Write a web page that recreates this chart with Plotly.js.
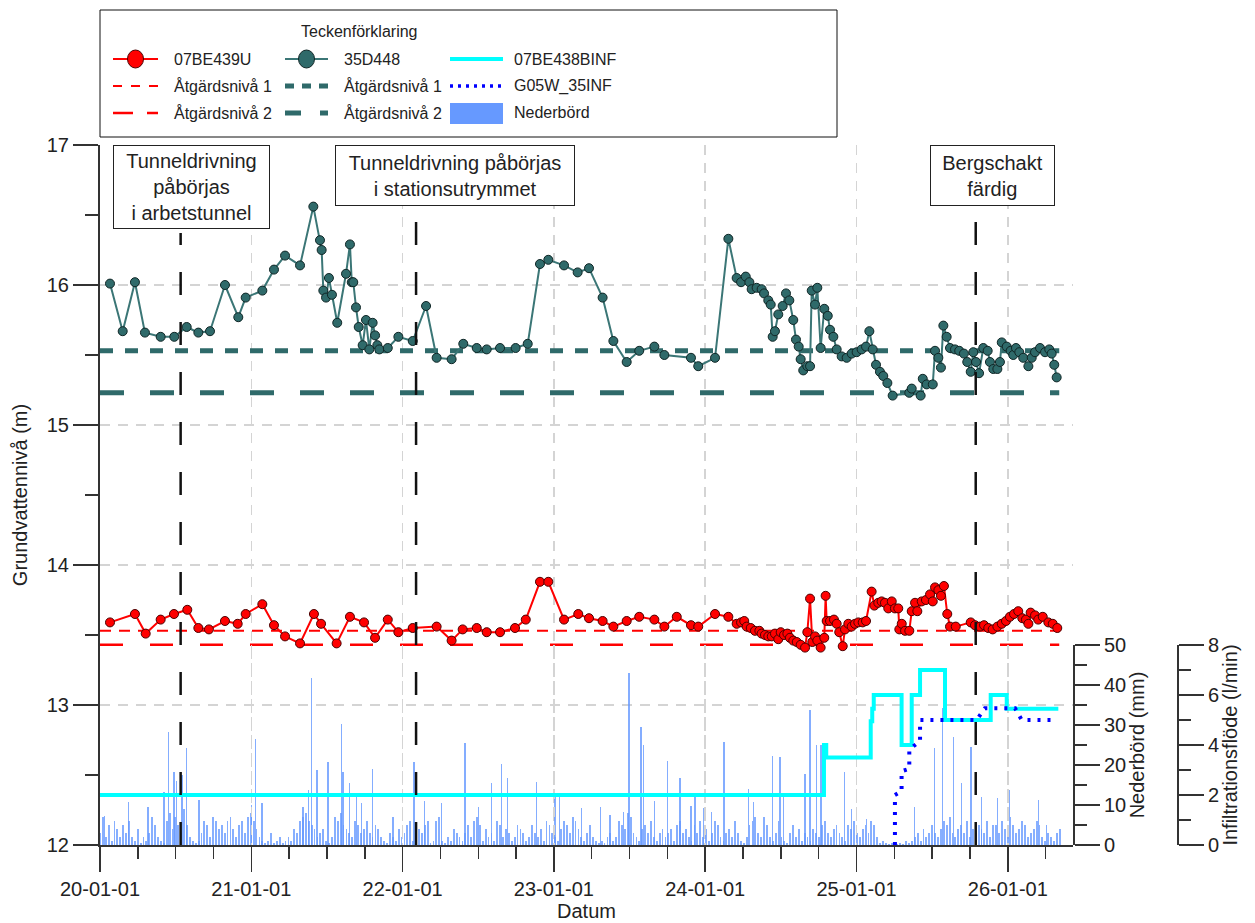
<!DOCTYPE html>
<html><head><meta charset="utf-8">
<script src="https://cdn.plot.ly/plotly-3.0.1.min.js"></script>
<style>html,body{margin:0;padding:0;background:#fff}#chart{width:1255px;height:923px}</style>
</head><body><div id="chart"></div>
<script>
// ---------- DATA ----------
// time is expressed in decimal years
const yearTicks = [2020, 2021, 2022, 2023, 2024, 2025, 2026];
const yearTickLabels = ['20-01-01','21-01-01','22-01-01','23-01-01','24-01-01','25-01-01','26-01-01'];

// 35D448 groundwater level (m)
const tealYears = [
2020.066,2020.150,2020.231,2020.297,2020.401,2020.491,2020.573,2020.650,2020.727,2020.826,
2020.914,2020.963,2021.073,2021.150,2021.223,2021.322,2021.410,2021.454,2021.465,2021.476,
2021.494,2021.513,2021.533,2021.568,2021.626,2021.652,2021.664,2021.674,2021.692,2021.710,
2021.736,2021.758,2021.780,2021.802,2021.818,2021.833,2021.846,2021.902,2021.972,2022.067,
2022.155,2022.225,2022.324,2022.401,2022.490,2022.556,2022.644,2022.747,2022.827,2022.908,
2022.963,2023.067,2023.157,2023.232,2023.322,2023.393,2023.481,2023.564,2023.664,2023.730,
2023.906,2023.954,2024.065,2024.153,2024.208,2024.237,2024.268,2024.292,2024.307,2024.340,
2024.373,2024.389,2024.417,2024.433,2024.446,2024.461,2024.483,2024.512,2024.534,2024.556,
2024.582,2024.600,2024.618,2024.631,2024.648,2024.675,2024.693,2024.704,2024.726,2024.741,
2024.763,2024.787,2024.810,2024.825,2024.847,2024.869,2024.902,2024.935,2024.968,2025.001,
2025.034,2025.063,2025.085,2025.107,2025.129,2025.155,2025.177,2025.204,2025.239,2025.349,
2025.365,2025.424,2025.438,2025.464,2025.504,2025.519,2025.541,2025.558,2025.574,2025.596,
2025.618,2025.651,2025.679,2025.710,2025.732,2025.755,2025.772,2025.790,2025.810,2025.838,
2025.867,2025.882,2025.904,2025.931,2025.948,2025.960,2025.993,2026.019,2026.036,2026.054,
2026.076,2026.102,2026.136,2026.158,2026.180,2026.213,2026.246,2026.274,2026.290,2026.307,2026.323];
const tealLevel = [
16.01,15.67,16.02,15.66,15.63,15.63,15.70,15.66,15.67,16.00,
15.77,15.91,15.96,16.11,16.21,16.14,16.56,16.32,16.25,15.96,
15.91,16.05,15.93,15.73,16.08,16.29,16.02,16.02,15.84,15.70,
15.57,15.75,15.54,15.73,15.64,15.57,15.54,15.55,15.63,15.60,
15.85,15.48,15.47,15.58,15.55,15.54,15.55,15.55,15.58,16.15,
16.18,16.14,16.09,16.12,15.91,15.60,15.45,15.53,15.56,15.50,
15.48,15.42,15.48,16.33,16.05,16.02,16.06,16.02,15.97,15.98,
15.97,15.94,15.89,15.86,15.63,15.67,15.79,15.85,15.94,15.89,
15.75,15.61,15.56,15.47,15.39,15.42,15.42,15.96,15.86,15.98,
15.55,15.83,15.78,15.68,15.63,15.54,15.49,15.48,15.51,15.52,
15.54,15.56,15.67,15.54,15.43,15.38,15.35,15.30,15.21,15.23,
15.26,15.21,15.33,15.29,15.29,15.53,15.48,15.41,15.71,15.63,
15.55,15.54,15.53,15.51,15.45,15.38,15.52,15.45,15.37,15.55,
15.53,15.45,15.40,15.40,15.45,15.59,15.56,15.53,15.50,15.55,
15.52,15.48,15.42,15.48,15.52,15.55,15.52,15.54,15.51,15.43,15.34];

// 07BE439U groundwater level (m)
const redYears = [
2020.066,2020.231,2020.302,2020.401,2020.489,2020.577,2020.650,2020.720,2020.826,2020.910,
2020.963,2021.073,2021.150,2021.223,2021.322,2021.414,2021.461,2021.564,2021.652,2021.745,
2021.818,2021.902,2021.972,2022.067,2022.225,2022.324,2022.397,2022.490,2022.556,2022.644,
2022.743,2022.814,2022.908,2022.963,2023.067,2023.161,2023.232,2023.322,2023.393,2023.481,
2023.564,2023.664,2023.730,2023.812,2023.906,2023.954,2024.065,2024.153,2024.208,2024.237,
2024.258,2024.274,2024.301,2024.329,2024.358,2024.373,2024.395,2024.417,2024.440,2024.461,
2024.483,2024.499,2024.521,2024.543,2024.560,2024.582,2024.605,2024.631,2024.660,2024.675,
2024.693,2024.708,2024.726,2024.741,2024.763,2024.787,2024.796,2024.803,2024.825,2024.851,
2024.869,2024.886,2024.909,2024.924,2024.946,2024.968,2024.990,2025.012,2025.041,2025.063,
2025.100,2025.118,2025.144,2025.166,2025.188,2025.210,2025.233,2025.254,2025.276,2025.283,
2025.299,2025.321,2025.349,2025.365,2025.387,2025.402,2025.431,2025.459,2025.486,2025.504,
2025.519,2025.541,2025.558,2025.578,2025.600,2025.618,2025.656,2025.755,2025.783,2025.816,
2025.843,2025.871,2025.900,2025.931,2025.960,2025.988,2026.014,2026.041,2026.069,2026.096,
2026.120,2026.136,2026.151,2026.180,2026.201,2026.231,2026.268,2026.297,2026.327];
const redLevel = [
13.59,13.65,13.51,13.61,13.65,13.68,13.55,13.54,13.60,13.58,
13.65,13.72,13.57,13.49,13.44,13.65,13.58,13.44,13.63,13.59,
13.48,13.61,13.52,13.55,13.56,13.46,13.54,13.55,13.52,13.52,
13.55,13.61,13.88,13.88,13.61,13.65,13.62,13.60,13.56,13.60,
13.63,13.61,13.56,13.63,13.57,13.56,13.65,13.63,13.58,13.59,
13.60,13.56,13.55,13.53,13.53,13.51,13.50,13.49,13.49,13.51,
13.47,13.52,13.50,13.51,13.48,13.46,13.45,13.43,13.41,13.52,
13.76,13.45,13.49,13.46,13.41,13.48,13.78,13.60,13.60,13.61,
13.58,13.52,13.42,13.54,13.58,13.56,13.58,13.59,13.59,13.60,
13.81,13.71,13.73,13.74,13.73,13.69,13.74,13.69,13.69,13.54,
13.58,13.53,13.53,13.67,13.73,13.67,13.74,13.75,13.79,13.74,
13.84,13.82,13.78,13.85,13.65,13.56,13.56,13.59,13.57,13.56,
13.57,13.55,13.54,13.56,13.58,13.60,13.63,13.65,13.67,13.62,
13.61,13.58,13.66,13.64,13.61,13.63,13.59,13.58,13.55];

// action levels (m)
const levelSpan = [2020.0, 2026.34];
const redAction1 = 13.53, redAction2 = 13.43;
const tealAction1 = 15.53, tealAction2 = 15.23;

// 07BE438BINF infiltration flow (l/min), step series
const cyanYears = [2020.000,2024.785,2024.800,2025.094,2025.104,2025.114,2025.298,2025.365,2025.420,2025.585,2025.887,2025.993,2026.334];
const cyanFlow  = [2.0,4.0,3.5,4.95,5.45,6.0,4.0,6.0,7.0,5.0,6.0,5.45,5.45];

// G05W_35INF infiltration flow (l/min)
const blueYears = [2025.254,2025.254,2025.298,2025.298,2025.349,2025.349,2025.376,2025.420,2025.420,2025.794,2025.849,2026.048,2026.092,2026.290];
const blueFlow  = [0.0,2.0,2.15,2.95,3.05,3.8,3.95,4.15,5.0,5.0,5.47,5.47,5.0,5.0];

// Nederbörd (mm): weekly background values from 2020-01-01
const precipStartYear = 2020.0;
const precipWeekStep = 7 / 365.25;
const precipWeekly = [
3,7,2,5,1,6,4,2,5,3,6,2,
1,4,0.5,2,1,3,7,5,2,1,0.5,
6,8,4,7,5,3,9,5,2,1,0.5,1,
3,6,5,2,7,6,4,5,3,6,7,4,2,5,6,3,7,8,
6,4,2,1,0.5,1,3,0.5,1,2,0.5,1,2,1,4,3,6,7,
8,6,5,4,2,3,4,1,0.5,2,7,6,8,5,4,3,2,6,5,3,
4,6,3,2,5,4,2,1,0.5,3,2,1,4,2,3,5,6,1,2,4,3,5,6,
0.5,1,6,7,1,0.5,2,1,4,3,2,1,
3,5,2,6,7,5,1,4,2,3,1,6,5,2,4,3,1,2,5,4,3,1,2,
5,3,2,4,1,6,5,3,2,1,4,6,5,3,7,6,4,2,1,3,5,2,1,
0.5,1,0.5,2,3,1,2,6,5,4,8,7,3,2,1,4,5,3,6,2,1,3,4,
2,3,4,1,5,6,3,4,2,1,5,3,6,2,4,1,3,6,5,2,1,3,4,2,6,3,1,0.5,2,5,6,7,3,2,
7,5,2,1,3,6,2,1,0.5,3,5,2,4,1,3,2,1,4,3,2,5,6,3,
2,4,5,3,2,1,5,4,6,3,2,4,5,3,6,5,2,0.5,1,0.5,0.3,0.5,0.3,0.3,0.5,0.3,
1,0.5,1,2,3,1,4,2,3,5,3,2,4,6,5,7,3,2,4,5,3,6,2,4,3,5,4,3,6,2,5,
5,3,6,4,2,7,5,3,4,6,5,2,3,4,6,5,2,1,3,2,1,3,4];
// Nederbörd (mm): individual peak days
const precipPeakYears = [
2020.031,2020.190,2020.317,2020.423,2020.454,2020.489,2020.504,2020.542,2020.573,2020.654,
2021.000,2021.026,2021.071,2021.342,2021.379,2021.397,2021.434,2021.507,2021.595,2021.606,
2021.650,2021.694,2021.727,2021.800,2021.937,2022.075,2022.146,2022.258,2022.412,2022.500,
2022.589,2022.655,2022.695,2022.886,2023.007,2023.036,2023.184,2023.310,2023.371,2023.459,
2023.497,2023.576,2023.591,2023.664,2023.752,2023.834,2023.906,2023.933,2023.987,2024.043,
2024.124,2024.285,2024.318,2024.446,2024.494,2024.516,2024.660,2024.693,2024.737,2024.765,
2024.919,2024.968,2025.067,2025.382,2025.514,2025.570,2025.640,2025.695,2025.757,2025.827,
2025.933,2026.010,2026.201,2026.256];
const precipPeaks = [
7.2,10.8,9.6,13.3,28.3,18.3,16,17.5,24.3,11.3,
10,26.5,10.6,9.6,13.7,41.7,18.8,20.8,30.2,18.3,
15.4,12.1,10.4,18.9,7.1,20.8,11,10.4,25.4,9.6,
15.4,20.3,16.7,15.7,12.1,12.1,9.3,9.6,7.6,8.3,
42.9,29.6,25,11.1,21,16.7,9.8,12.1,9.2,8.2,
25.7,14.1,10.8,22.3,22,12.3,17.7,33.8,25,25,
18.3,9.1,6.6,9.6,24.2,34.2,27.1,15.4,24.6,12.1,
11.7,13.8,11.3,5];

// events
const eventYears = [2020.533, 2022.089, 2025.788];
const eventLabels = ['Tunneldrivning<br>påbörjas<br>i arbetstunnel', 'Tunneldrivning påbörjas<br>i stationsutrymmet', 'Bergschakt<br>färdig'];
const eventBoxCenters = [2020.605, 2022.346, 2025.899];

// legend texts
const legendTitle = 'Teckenförklaring';
const legendLabels = [['07BE439U','Åtgärdsnivå 1','Åtgärdsnivå 2'],['35D448','Åtgärdsnivå 1','Åtgärdsnivå 2'],['07BE438BINF','G05W_35INF','Nederbörd']];

// ---------- STYLE / LAYOUT ----------
const W = 1255, H = 923, L = 100, R = 40, T = 145, B = 78;
const PW = W - L - R, PH = H - T - B;
const px2x = X => (X - L) / PW;
const px2y = Y => (T + PH - Y) / PH;
const FONT = 'Liberation Sans, Arial, sans-serif';
const RED = '#ff0000', TEAL = '#2f6a6a', CYAN = '#00ffff', BLUE = '#0000ff', RAIN = 'rgb(102,153,255)';

const precipWeekYears = precipWeekly.map((v, i) => precipStartYear + i * precipWeekStep);

const traces = [
  {x: precipWeekYears, y: precipWeekly, type: 'bar', yaxis: 'y2', width: 0.012,
   marker: {color: RAIN, line: {width: 0}}, opacity: 0.78, name: 'Nederbörd'},
  {x: precipPeakYears, y: precipPeaks, type: 'bar', yaxis: 'y2', width: 0.009,
   marker: {color: RAIN, line: {width: 0}}, opacity: 0.8, name: 'Nederbörd'},
  {x: levelSpan, y: [tealAction1, tealAction1], mode: 'lines', line: {color: TEAL, width: 5, dash: '13px,12px'}, name: 'Åtgärdsnivå 1'},
  {x: levelSpan, y: [tealAction2, tealAction2], mode: 'lines', line: {color: TEAL, width: 5, dash: '24px,26px'}, name: 'Åtgärdsnivå 2'},
  {x: levelSpan, y: [redAction1, redAction1], mode: 'lines', line: {color: RED, width: 2, dash: '11px,8px'}, name: 'Åtgärdsnivå 1'},
  {x: levelSpan, y: [redAction2, redAction2], mode: 'lines', line: {color: RED, width: 2.5, dash: '23px,27px'}, name: 'Åtgärdsnivå 2'},
  {x: tealYears, y: tealLevel, mode: 'lines+markers', name: '35D448',
   line: {color: '#3b7676', width: 2}, marker: {size: 9, color: TEAL, line: {color: '#102626', width: 1}}},
  {x: redYears, y: redLevel, mode: 'lines+markers', name: '07BE439U',
   line: {color: RED, width: 2}, marker: {size: 9, color: RED, line: {color: '#4a0000', width: 1}}},
  {x: cyanYears, y: cyanFlow, mode: 'lines', yaxis: 'y3', name: '07BE438BINF',
   line: {color: CYAN, width: 4, shape: 'hv'}},
  {x: blueYears, y: blueFlow, mode: 'lines', yaxis: 'y3', name: 'G05W_35INF',
   line: {color: BLUE, width: 4, dash: '3px,7px'}}
];

const shapes = [];
const annotations = [];

// event lines and boxes
const eventTops = [233, 221, 221];
eventYears.forEach((ex, i) => {
  shapes.push({type: 'line', xref: 'x', yref: 'paper', x0: ex, x1: ex, y0: 0, y1: px2y(eventTops[i]),
    line: {color: '#111', width: 2.5, dash: '23px,27px'}, layer: 'above'});
});
const boxW = [155, 238, 123], boxH = [82, 59, 59];
eventLabels.forEach((t, i) => {
  annotations.push({text: t, xref: 'x', yref: 'paper', x: eventBoxCenters[i], y: 1, xanchor: 'center', yanchor: 'top',
    showarrow: false, bgcolor: '#fff', bordercolor: '#222', borderwidth: 1, borderpad: 0,
    width: boxW[i], height: boxH[i], align: 'center', valign: 'middle',
    font: {family: FONT, size: 20, color: '#222'}});
});

// manual legend
shapes.push({type: 'rect', xref: 'paper', yref: 'paper', x0: px2x(100), x1: px2x(837), y0: px2y(137), y1: px2y(10),
  line: {color: '#111', width: 1}, fillcolor: '#fff', layer: 'above'});
annotations.push({text: legendTitle, xref: 'paper', yref: 'paper', x: px2x(359), y: px2y(32), xanchor: 'center', yanchor: 'middle',
  showarrow: false, font: {family: FONT, size: 16, color: '#222'}});
const rowY = [59, 86, 113];
const colSym = [[113, 158], [285, 328], [450, 503]];
const colText = [172, 342, 512];
function lineSym(c, r, color, width, dash) {
  shapes.push({type: 'line', xref: 'paper', yref: 'paper', x0: px2x(colSym[c][0]), x1: px2x(colSym[c][1]),
    y0: px2y(rowY[r]), y1: px2y(rowY[r]), line: {color: color, width: width, dash: dash || 'solid'}, layer: 'above'});
}
function circleSym(c, r, fill, edge) {
  const cx = (colSym[c][0] + colSym[c][1]) / 2;
  shapes.push({type: 'circle', xref: 'paper', yref: 'paper', x0: px2x(cx - 8), x1: px2x(cx + 8),
    y0: px2y(rowY[r] + 9), y1: px2y(rowY[r] - 9), fillcolor: fill, line: {color: edge, width: 1}, layer: 'above'});
}
lineSym(0, 0, RED, 2); circleSym(0, 0, RED, '#4a0000');
lineSym(0, 1, RED, 2, '9px,9px');
lineSym(0, 2, RED, 2.5, '20px,14px');
lineSym(1, 0, '#3b7676', 2); circleSym(1, 0, TEAL, '#102626');
lineSym(1, 1, TEAL, 5, '9px,8px');
lineSym(1, 2, TEAL, 5, '16px,19px');
lineSym(2, 0, CYAN, 4);
lineSym(2, 1, BLUE, 3.5, '3px,5px');
shapes.push({type: 'rect', xref: 'paper', yref: 'paper', x0: px2x(450), x1: px2x(503), y0: px2y(124), y1: px2y(103),
  fillcolor: RAIN, line: {width: 0}, layer: 'above'});
legendLabels.forEach((col, c) => col.forEach((lab, r) => {
  annotations.push({text: lab, xref: 'paper', yref: 'paper', x: px2x(colText[c]), y: px2y(rowY[r]), xanchor: 'left', yanchor: 'middle',
    showarrow: false, font: {family: FONT, size: 16, color: '#222'}});
}));

const axisCommon = {showline: true, linecolor: '#333', linewidth: 2, ticks: 'outside', tickcolor: '#333', tickwidth: 1.5,
  ticklen: 25, tickfont: {family: FONT, size: 20, color: '#222'}, zeroline: false, automargin: false};

const layout = {
  width: W, height: H, margin: {l: L, r: R, t: T, b: B, pad: 0},
  paper_bgcolor: '#fff', plot_bgcolor: 'rgba(0,0,0,0)',
  showlegend: false, barmode: 'overlay', bargap: 0,
  font: {family: FONT, color: '#222'},
  xaxis: Object.assign({}, axisCommon, {
    domain: [0, px2x(1073)], range: [2020, 2020 + (1073 - 100) / 151.3],
    tickmode: 'array', tickvals: yearTicks, ticktext: yearTickLabels,
    showgrid: true, gridcolor: '#d4d4d4', gridwidth: 1.5, griddash: '10px,8px',
    minor: {tick0: 2020, dtick: 0.25, ticks: 'outside', ticklen: 12, tickcolor: '#333', tickwidth: 1.5, showgrid: false},
    title: {text: 'Datum', font: {family: FONT, size: 20, color: '#222'}, standoff: 5}
  }),
  yaxis: Object.assign({}, axisCommon, {
    domain: [0, 1], range: [12, 17], dtick: 1, tick0: 12,
    showgrid: true, gridcolor: '#d4d4d4', gridwidth: 1.5, griddash: '10px,8px',
    minor: {dtick: 0.5, ticks: 'outside', ticklen: 13, tickcolor: '#333', tickwidth: 1.5, showgrid: false},
    title: {text: 'Grundvattennivå (m)', font: {family: FONT, size: 20, color: '#222'}, standoff: 14}
  }),
  yaxis2: Object.assign({}, axisCommon, {
    domain: [0, 200 / PH], anchor: 'x', side: 'right', range: [0, 50], dtick: 10, tick0: 0,
    showgrid: false,
    minor: {dtick: 5, ticks: 'outside', ticklen: 12, tickcolor: '#333', tickwidth: 1.5, showgrid: false},
    title: {text: 'Nederbörd (mm)', font: {family: FONT, size: 20, color: '#222'}, standoff: 4}
  }),
  yaxis3: Object.assign({}, axisCommon, {
    domain: [0, 200 / PH], anchor: 'free', position: px2x(1178), side: 'right', range: [0, 8], dtick: 2, tick0: 0,
    showgrid: false,
    minor: {dtick: 1, ticks: 'outside', ticklen: 12, tickcolor: '#333', tickwidth: 1.5, showgrid: false},
    title: {text: 'Infiltrationsflöde (l/min)', font: {family: FONT, size: 20, color: '#222'}, standoff: 4}
  }),
  shapes: shapes,
  annotations: annotations
};

Plotly.newPlot('chart', traces, layout, {displayModeBar: false, staticPlot: true});
</script></body></html>
